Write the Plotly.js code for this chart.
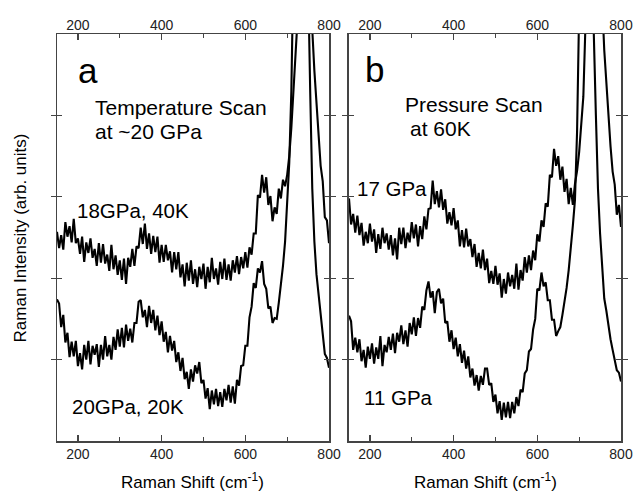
<!DOCTYPE html>
<html>
<head>
<meta charset="utf-8">
<script src="https://cdn.plot.ly/plotly-3.0.1.min.js"></script>
<style>html,body{margin:0;padding:0;background:#fff;}#chart{width:634px;height:497px;}</style>
</head>
<body>
<div id="chart"></div>
<script>
// Raman shift grid (cm-1)
var shift = [150,155,160,165,170,175,180,185,190,195,200,205,210,215,220,225,230,235,240,245,250,255,260,265,270,275,280,285,290,295,300,305,310,315,320,325,330,335,340,345,350,355,360,365,370,375,380,385,390,395,400,405,410,415,420,425,430,435,440,445,450,455,460,465,470,475,480,485,490,495,500,505,510,515,520,525,530,535,540,545,550,555,560,565,570,575,580,585,590,595,600,605,610,615,620,625,630,635,640,645,650,655,660,665,670,675,680,685,690,695,700,705,710,715,720,725,730,735,740,745,750,755,760,765,770,775,780,785,790,795,800];

// Panel a: temperature scan at ~20 GPa
var a_18GPa_40K = [2.57,2.37,2.53,2.35,2.69,2.51,2.64,2.44,2.73,2.43,2.49,2.30,2.51,2.20,2.44,2.31,2.49,2.25,2.36,2.15,2.43,2.19,2.42,2.18,2.29,2.09,2.41,2.11,2.28,2.04,2.22,1.98,2.24,1.93,2.25,2.14,2.36,2.15,2.39,2.37,2.62,2.42,2.67,2.36,2.55,2.30,2.52,2.32,2.51,2.19,2.41,2.20,2.41,2.22,2.33,2.07,2.32,2.11,2.32,2.01,2.17,1.90,2.19,1.97,2.22,1.93,2.11,1.89,2.14,1.99,2.18,1.87,2.14,1.95,2.25,1.99,2.12,1.92,2.20,1.99,2.24,1.98,2.17,1.97,2.22,2.07,2.27,2.05,2.26,2.12,2.32,2.13,2.38,2.29,2.55,2.55,3.02,2.99,3.27,3.05,3.24,2.90,3.01,2.70,2.87,2.79,3.10,2.98,3.21,3.13,3.27,3.50,3.85,4.25,4.70,5.2,6.5,8.5,11,10.5,8,6.2,5.05,4.55,4.15,3.85,3.38,3.19,2.75,2.71,2.43];
var a_20GPa_20K = [1.74,1.69,1.40,1.55,1.21,1.33,1.03,1.22,1.04,1.23,0.92,1.08,0.88,1.18,1.00,1.23,0.94,1.17,1.06,1.19,0.91,1.18,1.00,1.29,1.04,1.18,1.00,1.28,1.12,1.37,1.16,1.39,1.15,1.43,1.23,1.38,1.21,1.45,1.45,1.71,1.73,1.52,1.61,1.40,1.66,1.45,1.61,1.36,1.54,1.30,1.47,1.22,1.34,1.09,1.29,1.11,1.23,0.97,1.09,0.86,1.02,0.76,0.85,0.64,0.88,0.73,0.93,0.83,0.97,0.71,0.75,0.52,0.65,0.39,0.62,0.45,0.64,0.43,0.60,0.42,0.64,0.50,0.69,0.47,0.67,0.46,0.75,0.68,0.92,0.93,1.17,1.17,1.52,1.65,1.94,1.88,2.12,2.07,2.21,1.93,1.87,1.63,1.65,1.45,1.51,1.50,1.70,1.92,2.15,2.45,2.90,3.42,4.3,5.2,6.5,8.5,10.5,10,8.5,7,5.6,4.3,3.1,2.45,2.05,1.80,1.55,1.30,1.07,1.02,0.90];

// Panel b: pressure scan at 60 K
var b_17GPa = [2.98,2.66,2.79,2.56,2.77,2.53,2.68,2.40,2.57,2.43,2.67,2.45,2.60,2.31,2.54,2.36,2.62,2.43,2.55,2.35,2.53,2.28,2.49,2.23,2.62,2.42,2.62,2.37,2.56,2.44,2.69,2.49,2.66,2.39,2.64,2.48,2.76,2.60,2.85,2.86,3.20,2.91,3.07,2.87,3.09,2.84,2.97,2.67,2.81,2.65,2.86,2.60,2.71,2.39,2.59,2.38,2.61,2.39,2.48,2.26,2.42,2.14,2.31,2.12,2.35,2.10,2.24,1.94,2.09,1.93,2.15,1.92,2.06,1.76,1.99,1.81,2.07,1.90,2.04,1.87,2.18,1.86,2.10,1.97,2.26,2.07,2.28,2.10,2.34,2.22,2.54,2.45,2.71,2.63,2.92,2.88,3.27,3.24,3.59,3.38,3.50,3.21,3.37,3.06,3.22,2.91,3.11,2.90,3.16,3.32,3.55,3.85,4.23,5.1,6.2,7.8,9.5,10.5,10,8.5,6.8,5.4,4.8,4.38,3.95,3.62,3.31,3.15,2.78,2.90,2.63];
var b_11GPa = [1.54,1.47,1.12,1.27,1.09,1.25,0.98,1.12,0.90,1.16,1.01,1.20,0.95,1.15,1.01,1.29,0.92,1.18,1.09,1.28,1.12,1.32,1.08,1.33,1.22,1.42,1.19,1.36,1.16,1.45,1.31,1.52,1.29,1.51,1.39,1.65,1.61,1.85,1.96,1.76,1.84,1.57,1.83,1.87,1.69,1.75,1.45,1.47,1.22,1.36,1.13,1.27,1.04,1.19,0.96,1.11,0.89,1.04,0.78,0.89,0.68,0.81,0.62,0.80,0.69,0.89,0.89,0.69,0.71,0.48,0.57,0.34,0.49,0.26,0.47,0.29,0.48,0.28,0.48,0.34,0.54,0.43,0.63,0.60,0.83,0.87,1.10,1.13,1.37,1.50,1.87,1.85,2.07,1.90,1.95,1.73,1.73,1.49,1.49,1.29,1.35,1.40,1.55,1.70,1.88,2.10,2.35,2.65,2.96,3.8,5.3,7,9,10.5,10.5,9,7,5.0,4.0,3.1,2.55,2.1,1.75,1.6,1.4,1.25,1.12,1.0,0.87,0.84,0.73];

var tickVals = [200,400,600,800];
var tickText = ['200','400','600','800'];
var xTitle = 'Raman Shift (cm<sup>-1</sup>)';
var yTitle = 'Raman Intensity (arb. units)';

var FONT = 'Liberation Sans, Arial, sans-serif';
var LINEC = '#444';

function ln(x, y, xa, ya) {
  return {x: x, y: y, xaxis: xa, yaxis: ya, type: 'scatter', mode: 'lines',
          line: {color: '#000', width: 2.1}, hoverinfo: 'skip', showlegend: false};
}
// helper traces that only carry the top tick-label axes
function axisHolder(xa, ya) {
  return {x: [150, 800], y: [null, null], xaxis: xa, yaxis: ya, type: 'scatter', mode: 'lines',
          line: {color: 'rgba(0,0,0,0)', width: 0}, hoverinfo: 'skip', showlegend: false};
}
var data = [
  ln(shift, a_18GPa_40K, 'x', 'y'),
  ln(shift, a_20GPa_20K, 'x', 'y'),
  ln(shift, b_17GPa, 'x2', 'y2'),
  ln(shift, b_11GPa, 'x2', 'y2'),
  axisHolder('x3', 'y'),
  axisHolder('x4', 'y2')
];

function xax(domain, anchor) {
  return {domain: domain, anchor: anchor, range: [150, 800], tickmode: 'array', tickvals: tickVals, ticktext: tickText,
    ticks: 'inside', ticklen: 6, tickwidth: 1.2, tickcolor: LINEC, mirror: 'allticks', showline: true, linecolor: LINEC, linewidth: 1.5,
    showgrid: false, zeroline: false, tickfont: {family: FONT, size: 14, color: '#222'},
    minor: {tickvals: [300, 500, 700], ticks: 'inside', ticklen: 4, tickwidth: 1.2, tickcolor: LINEC, showgrid: false},
    fixedrange: true};
}
function xtop(over, anchor) {
  return {overlaying: over, anchor: anchor, side: 'top', range: [150, 800], tickmode: 'array', tickvals: tickVals, ticktext: tickText,
    ticks: '', showline: false, showgrid: false, zeroline: false, tickfont: {family: FONT, size: 14, color: '#222'}, fixedrange: true};
}
function yax(anchor) {
  return {domain: [0, 1], anchor: anchor, range: [0, 5], tickvals: [1, 2, 3, 4], showticklabels: false,
    ticks: 'inside', ticklen: 5, tickwidth: 1.2, tickcolor: LINEC, mirror: 'allticks', showline: true, linecolor: LINEC, linewidth: 1.5,
    showgrid: false, zeroline: false, fixedrange: true};
}

function ann(xr, yr, x, y, text, size, extra) {
  var o = {xref: xr, yref: yr, x: x, y: y, text: text, showarrow: false, xanchor: 'left', yanchor: 'middle',
           font: {family: FONT, size: size, color: '#000'}};
  for (var k in extra) o[k] = extra[k];
  return o;
}

var layout = {
  width: 634, height: 497,
  margin: {l: 57, r: 13, t: 34, b: 56},
  paper_bgcolor: '#fff', plot_bgcolor: '#fff',
  showlegend: false,
  xaxis: xax([0, 0.4823], 'y'),
  yaxis: yax('x'),
  xaxis2: xax([0.5177, 1], 'y2'),
  yaxis2: yax('x2'),
  xaxis3: xtop('x', 'y'),
  xaxis4: xtop('x2', 'y2'),
  annotations: [
    ann('x', 'y', 224, 4.55, 'a', 35, {xanchor: 'center'}),
    ann('x', 'y', 236, 4.1, 'Temperature Scan', 21),
    ann('x', 'y', 236, 3.8, 'at ~20 GPa', 21),
    ann('x', 'y', 194, 2.83, '18GPa, 40K', 20.5),
    ann('x', 'y', 182, 0.43, '20GPa, 20K', 20.5),
    ann('x2', 'y2', 211, 4.56, 'b', 35, {xanchor: 'center'}),
    ann('x2', 'y2', 278, 4.14, 'Pressure Scan', 21),
    ann('x2', 'y2', 291, 3.84, 'at 60K', 21),
    ann('x2', 'y2', 164, 3.1, '17 GPa', 20.5),
    ann('x2', 'y2', 182, 0.53, '11 GPa', 20.5),
    ann('paper', 'paper', 0.2411, -0.098, xTitle, 17, {xanchor: 'center', yanchor: 'middle'}),
    ann('paper', 'paper', 0.7589, -0.098, xTitle, 17, {xanchor: 'center', yanchor: 'middle'}),
    ann('paper', 'paper', -0.064, 0.5, yTitle, 17, {xanchor: 'center', yanchor: 'middle', textangle: -90})
  ]
};

Plotly.newPlot('chart', data, layout, {staticPlot: true, displayModeBar: false});
</script>
</body>
</html>
